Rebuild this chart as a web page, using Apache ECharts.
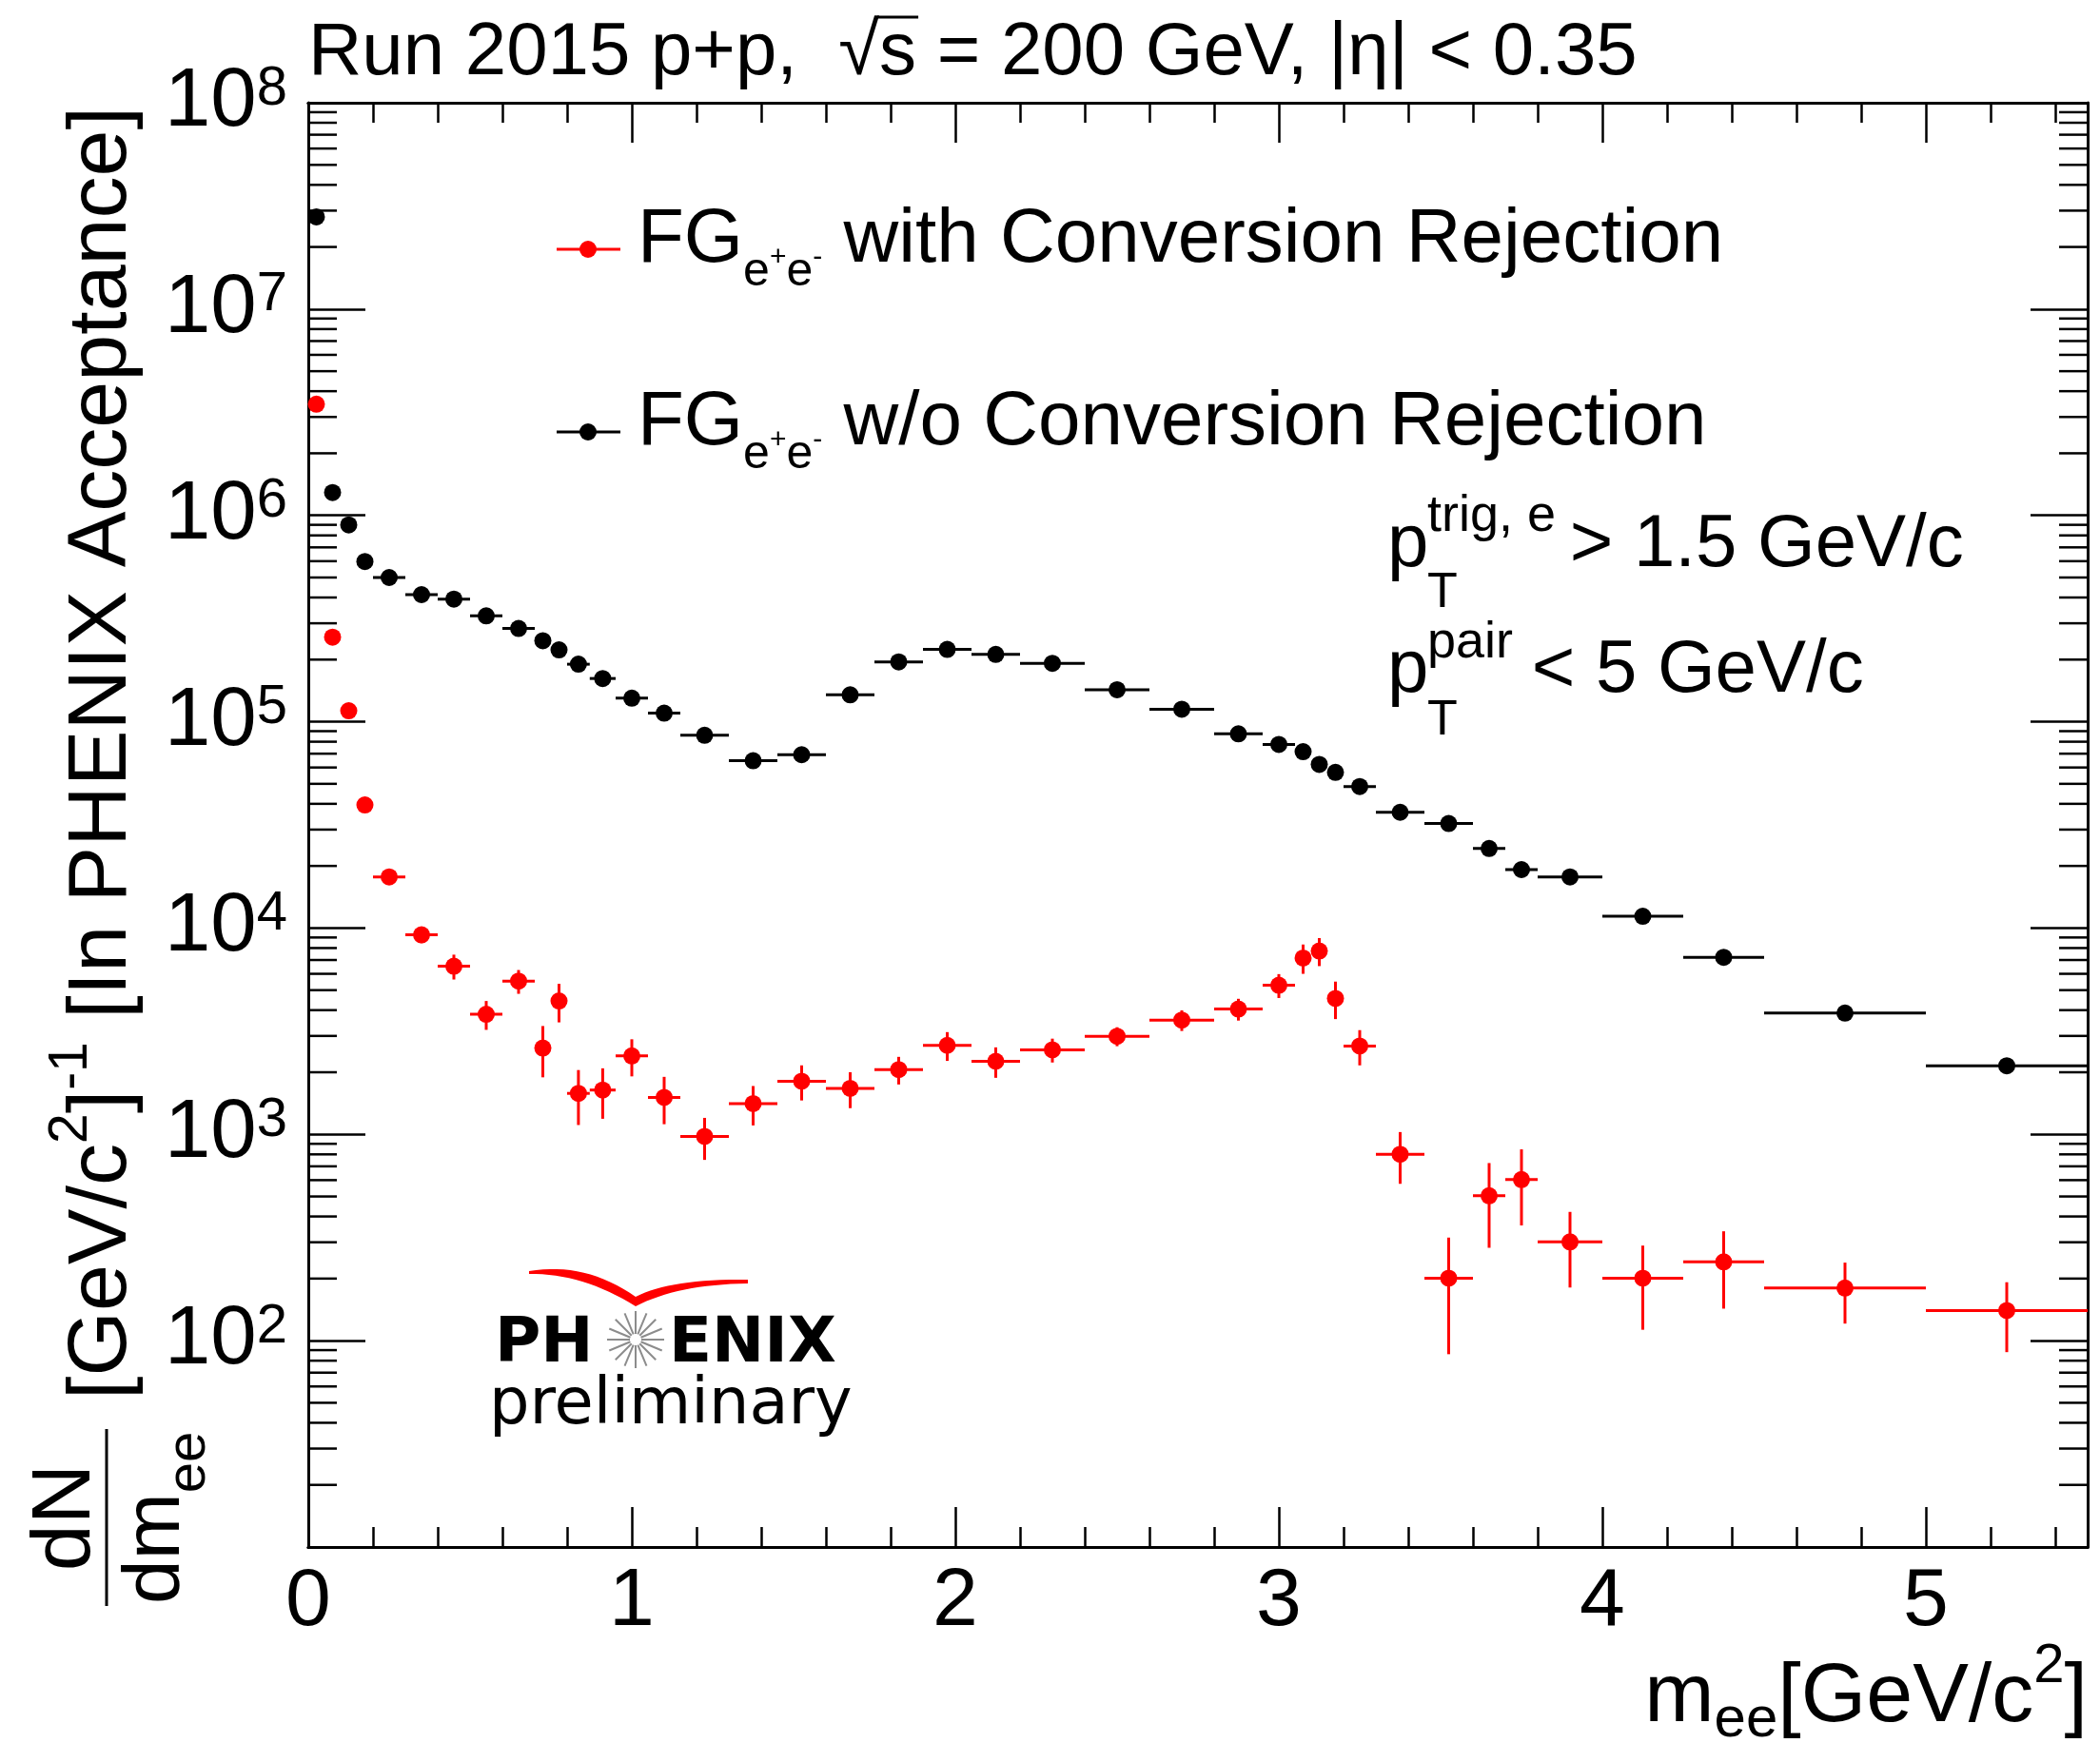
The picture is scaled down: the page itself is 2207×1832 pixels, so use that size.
<!DOCTYPE html>
<html><head><meta charset="utf-8">
<script src="https://cdn.jsdelivr.net/npm/echarts@6/dist/echarts.min.js"></script>
<style>html,body{margin:0;padding:0;background:#fff}#c{width:2207px;height:1832px}</style>
</head><body><div id="c"></div>
<script>
// ---------------- data ----------------
const binEdges = [0, 0.05, 0.1, 0.15, 0.2, 0.3, 0.4, 0.5, 0.6, 0.7, 0.75, 0.8, 0.87, 0.95, 1.05, 1.15, 1.3, 1.45, 1.6, 1.75, 1.9, 2.05, 2.2, 2.4, 2.6, 2.8, 2.95, 3.05, 3.1, 3.15, 3.2, 3.3, 3.45, 3.6, 3.7, 3.8, 4.0, 4.25, 4.5, 5.0, 5.5];
const blackValues = [2.8e7, 1.29e6, 9.0e5, 5.98e5, 5.0e5, 4.13e5, 3.93e5, 3.26e5, 2.83e5, 2.47e5, 2.23e5, 1.90e5, 1.62e5, 1.30e5, 1.10e5, 8.6e4, 6.47e4, 6.92e4, 1.35e5, 1.95e5, 2.24e5, 2.12e5, 1.92e5, 1.43e5, 1.15e5, 8.73e4, 7.76e4, 7.16e4, 6.21e4, 5.68e4, 4.85e4, 3.64e4, 3.21e4, 2.43e4, 1.92e4, 1.77e4, 1.14e4, 7.21e3, 3.87e3, 2.15e3];
const redValues = [3.46e6, 2.57e5, 1.13e5, 3.95e4, 1.77e4, 9270, 6530, 3820, 5530, 2620, 4430, 1580, 1640, 2400, 1510, 977, 1410, 1810, 1670, 2060, 2700, 2260, 2570, 2990, 3580, 4050, 5280, 7160, 7740, 4560, 2680, 801, 201, 504, 604, 301, 201, 241, 180, 140];
const redErrors = [15000, 2000, 1500, 800, 700, 820, 900, 610, 730, 730, 940, 470, 450, 490, 390, 225, 305, 350, 330, 315, 430, 380, 340, 315, 410, 490, 700, 1160, 1200, 940, 520, 225, 115, 222, 242, 120, 88, 98, 59, 52];
const xTickLabels = ['0', '1', '2', '3', '4', '5'];
const yTickExponents = [2, 3, 4, 5, 6, 7, 8];
const yDecades = [10, 100, 1000, 10000, 100000, 1000000, 10000000];
const yMinorMultipliers = [2, 3, 4, 5, 6, 7, 8, 9];

// ---------------- helpers ----------------
const FONT = "'Liberation Sans', Arial, Helvetica, sans-serif";
const DEJAVU = "'DejaVu Sans', sans-serif";
const MID = 0.345;
const MARKER = 18;
const meas = document.createElement('canvas').getContext('2d');
function tw(t, s, wt, fam) { meas.font = (wt || 'normal') + ' ' + s + 'px ' + (fam || FONT); return meas.measureText(t).width; }
function runs(x0, base, pieces) {
  let x = x0; const els = []; const xs = [];
  pieces.forEach(p => {
    const t = p[0], s = p[1], dy = p[2] || 0, o = p[3] || {};
    const fam = o.family || FONT, wt = o.weight || 'normal';
    if (o.x != null) x = o.x;
    xs.push(x);
    els.push({type: 'text', x: x, y: base + dy - MID * s, silent: true, z: 20,
      style: {text: t, fontSize: s, fontFamily: fam, fontWeight: wt, fill: o.fill || '#000',
        align: 'left', verticalAlign: 'middle', textAlign: 'left', textVerticalAlign: 'middle'}});
    x += tw(t, s, wt, fam);
  });
  xs.push(x);
  return {els, xs};
}
function quad(p0, c, p1, n) {
  const pts = [];
  for (let i = 0; i <= n; i++) {
    const t = i / n, u = 1 - t;
    pts.push([u * u * p0[0] + 2 * u * t * c[0] + t * t * p1[0], u * u * p0[1] + 2 * u * t * c[1] + t * t * p1[1]]);
  }
  return pts;
}

const centers = binEdges.slice(0, -1).map((e, i) => (e + binEdges[i + 1]) / 2);
const blackBars = blackValues.map((v, i) => [binEdges[i], binEdges[i + 1], v, 0]);
const redBars = redValues.map((v, i) => [binEdges[i], binEdges[i + 1], v, redErrors[i]]);
const yMinorTicks = [];
yDecades.forEach(d => yMinorMultipliers.forEach(m => yMinorTicks.push([0, d * m])));

function errorBarSeries(name, data, color) {
  return {type: 'custom', name, data, encode: {x: [0, 1], y: 2}, clip: false, z: 3, silent: true,
    renderItem(params, api) {
      const x0 = api.value(0), x1 = api.value(1), y = api.value(2), e = api.value(3);
      const xc = (x0 + x1) / 2;
      const pL = api.coord([x0, y]), pR = api.coord([x1, y]);
      const ch = [{type: 'line', shape: {x1: pL[0], y1: pL[1], x2: pR[0], y2: pR[1]}, style: {stroke: color, lineWidth: 3}}];
      if (e > 0) {
        const pT = api.coord([xc, y + e]), pB = api.coord([xc, y - e]);
        ch.push({type: 'line', shape: {x1: pT[0], y1: pT[1], x2: pB[0], y2: pB[1]}, style: {stroke: color, lineWidth: 3}});
      }
      return {type: 'group', children: ch};
    }};
}

// ---------------- text graphics ----------------
const G = [];
// title
const title = runs(324, 83, [["Run 2015 p+p,  ", 78], ["\u221A", 78], ["s", 78], [" = 200 GeV, |\u03B7| < 0.35", 78]]);
G.push(...title.els);
G.push({type: 'line', silent: true, shape: {x1: title.xs[2] - 2, y1: 18, x2: title.xs[3] + 2, y2: 18}, style: {stroke: '#000', lineWidth: 3}});

// legend
function legendEntry(base, lineY, color, rest) {
  G.push({type: 'line', silent: true, shape: {x1: 585, y1: lineY, x2: 652, y2: lineY}, style: {stroke: color, lineWidth: 3}});
  G.push({type: 'circle', silent: true, shape: {cx: 618, cy: lineY, r: MARKER / 2}, style: {fill: color}});
  G.push(...runs(670, base, [["FG", 80], ["e", 50, 22], ["+", 30, 0], ["e", 50, 22], ["-", 30, 0], [rest, 80]]).els);
}
legendEntry(281, 262, '#ff0000', " with Conversion Rejection");
legendEntry(473, 454, '#000000', " w/o Conversion Rejection");

// pT cuts
G.push(...runs(1458, 600, [["p", 78], ["T", 52, 42, {x: 1500}], ["trig, e", 54, -38, {x: 1500}], [" > 1.5 GeV/c", 78, 0, {x: 1628}]]).els);
G.push(...runs(1458, 732, [["p", 78], ["T", 52, 44, {x: 1500}], ["pair", 54, -37, {x: 1500}], [" < 5 GeV/c", 78, 0, {x: 1588}]]).els);

// x-axis title (right aligned to frame)
const xtPieces = [["m", 88], ["ee", 60, 14], ["[GeV/c", 88], ["2", 58, -43], ["]", 88]];
let xtW = 0; xtPieces.forEach(p => xtW += tw(p[0], p[1]));
G.push(...runs(2194 - xtW, 1815, xtPieces).els);

// y-axis title (rotated)
const yt = [];
yt.push(...runs(217, 0, [["[GeV/c", 88], ["2", 57, -43], ["]", 88], ["-1", 57, -43], [" [In PHENIX Acceptance]", 88]]).els);
const dnW = tw("dN", 88);
yt.push(...runs(93 - dnW / 2, -38, [["dN", 88]]).els);
yt.push(...runs(2, 56, [["dm", 84], ["ee", 58, 25]]).els);
yt.push({type: 'line', silent: true, shape: {x1: 0, y1: -26, x2: 186, y2: -26}, style: {stroke: '#000', lineWidth: 3}});
G.push({type: 'group', x: 138, y: 1688, rotation: Math.PI / 2, children: yt});

// PHENIX preliminary logo
const swooshTop = quad([556, 1336], [615, 1326], [668, 1363], 16).concat(quad([668, 1363], [705, 1344], [786, 1345], 16).slice(1));
const swooshBot = quad([786, 1349], [712, 1350], [668, 1373], 16).concat(quad([668, 1373], [612, 1338], [556, 1339], 16).slice(1));
G.push({type: 'polygon', silent: true, shape: {points: swooshTop.concat(swooshBot)}, style: {fill: '#ff0000'}});
G.push(...runs(520, 1437, [["PH", 66, 0, {weight: 'bold', family: DEJAVU}]]).els);
G.push(...runs(703, 1437, [["ENIX", 66, 0, {weight: 'bold', family: DEJAVU}]]).els);
for (let k = 0; k < 16; k++) {
  const a = k * Math.PI / 8;
  G.push({type: 'line', silent: true, shape: {x1: 668 + 6 * Math.cos(a), y1: 1408 + 6 * Math.sin(a), x2: 668 + 30 * Math.cos(a), y2: 1408 + 30 * Math.sin(a)}, style: {stroke: '#8c8c8c', lineWidth: 2}});
}
G.push(...runs(514, 1502, [["preliminary", 67, 0, {family: DEJAVU}]]).els);

// ---------------- chart ----------------
const axisLineStyle = {show: true, onZero: false, lineStyle: {color: '#000', width: 3}};
const tickStyle = {color: '#000', width: 2.5};
function xAx(pos, interval, len, labels) {
  return {type: 'value', min: 0, max: 5.5, interval, position: pos, splitLine: {show: false},
    axisLine: axisLineStyle, axisTick: {show: true, inside: true, length: len, lineStyle: tickStyle},
    axisLabel: labels ? {show: true, fontSize: 86, fontFamily: FONT, color: '#000', margin: 15, showMaxLabel: false,
      formatter: v => (Number.isInteger(v) && v < xTickLabels.length) ? xTickLabels[v] : ''} : {show: false}};
}
function yAx(pos, labels) {
  return {type: 'log', logBase: 10, min: 10, max: 1e8, position: pos, splitLine: {show: false},
    axisLine: axisLineStyle, axisTick: {show: true, inside: true, length: 60, lineStyle: tickStyle},
    axisLabel: labels ? {show: true, margin: 22, fontSize: 87, fontFamily: FONT, color: '#000',
      formatter: v => { const n = Math.round(Math.log10(v)); return yTickExponents.includes(n) ? '{b|10}{e|' + n + '}' : ''; },
      rich: {b: {fontSize: 87, lineHeight: 87, fontFamily: FONT, color: '#000', verticalAlign: 'bottom'},
             e: {fontSize: 58, lineHeight: 58, fontFamily: FONT, color: '#000', verticalAlign: 'top', padding: [0, 0, 47, 0]}}} : {show: false}};
}

const chart = echarts.init(document.getElementById('c'), null, {renderer: 'canvas', width: 2207, height: 1832});
chart.setOption({
  animation: false,
  backgroundColor: '#fff',
  textStyle: {fontFamily: FONT},
  grid: {left: 324, right: 13, top: 108, bottom: 206, containLabel: false, outerBoundsMode: 'none'},
  xAxis: [xAx('bottom', 1, 42, true), xAx('bottom', 0.2, 21, false), xAx('top', 1, 42, false), xAx('top', 0.2, 21, false)],
  yAxis: [yAx('left', true), yAx('right', false)],
  series: [
    {type: 'custom', name: 'yMinorTicks', data: yMinorTicks, encode: {x: 0, y: 1}, clip: false, silent: true, z: 5,
      renderItem(params, api) {
        const v = api.value(1); const pl = api.coord([0, v]); const pr = api.coord([5.5, v]);
        return {type: 'group', children: [
          {type: 'line', shape: {x1: pl[0], y1: pl[1], x2: pl[0] + 30, y2: pl[1]}, style: {stroke: '#000', lineWidth: 2.5}},
          {type: 'line', shape: {x1: pr[0] - 30, y1: pr[1], x2: pr[0], y2: pr[1]}, style: {stroke: '#000', lineWidth: 2.5}}]};
      }},
    errorBarSeries('blackErr', blackBars, '#000000'),
    errorBarSeries('redErr', redBars, '#ff0000'),
    {type: 'scatter', name: 'FG w/o Conversion Rejection', data: centers.map((x, i) => [x, blackValues[i]]), symbol: 'circle', symbolSize: MARKER, itemStyle: {color: '#000000', opacity: 1}, z: 6, silent: true},
    {type: 'scatter', name: 'FG with Conversion Rejection', data: centers.map((x, i) => [x, redValues[i]]), symbol: 'circle', symbolSize: MARKER, itemStyle: {color: '#ff0000', opacity: 1}, z: 6, silent: true}
  ],
  graphic: {elements: G}
});
</script>
</body></html>
